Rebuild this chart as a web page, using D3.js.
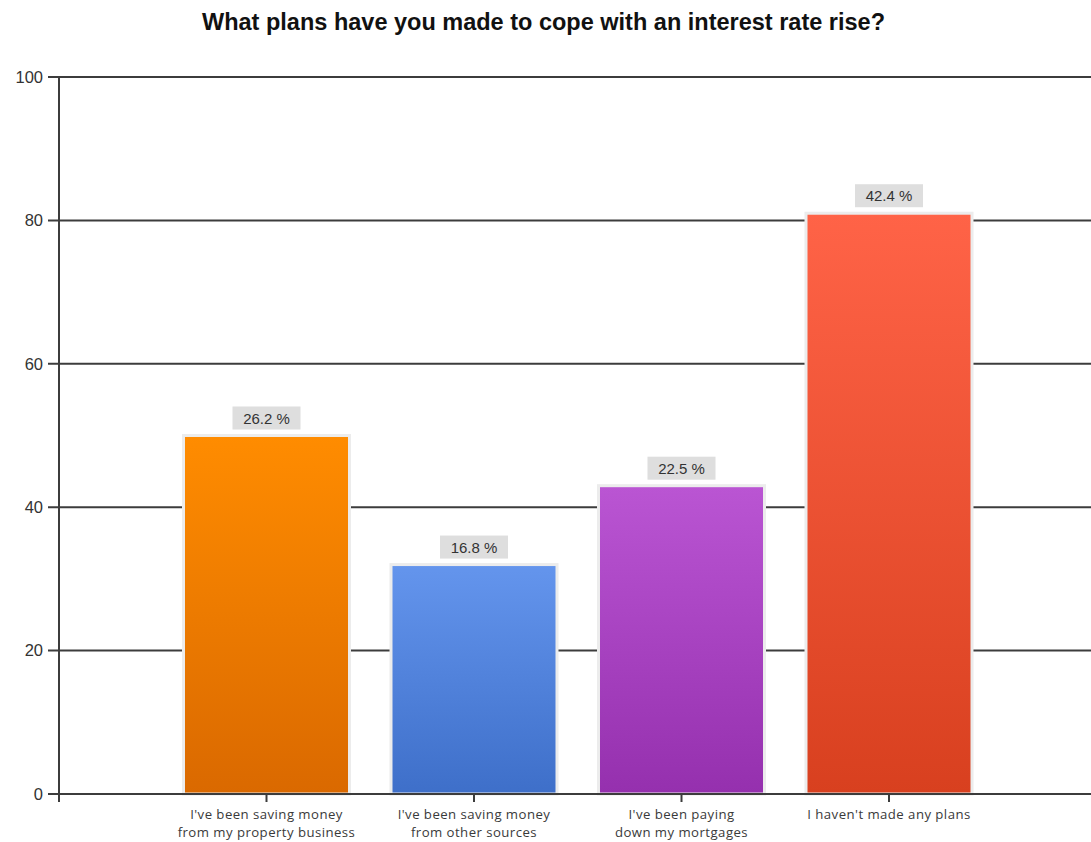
<!DOCTYPE html>
<html>
<head>
<meta charset="utf-8">
<script src="https://cdn.jsdelivr.net/npm/d3@7/dist/d3.min.js"></script>
<style>
  html, body { margin: 0; padding: 0; background: #fff; }
  svg { display: block; font-family: "Liberation Sans", Arial, sans-serif; }
</style>
</head>
<body>
<svg id="chart" width="1091" height="842"></svg>
<script>
// Survey answers (multiple choice allowed)
const categories = [
  ["I've been saving money", "from my property business"],
  ["I've been saving money", "from other sources"],
  ["I've been paying", "down my mortgages"],
  ["I haven't made any plans"]
];
const responses = [50, 32, 43, 81];   // number of respondents per answer
const respondents = 191;              // total respondents
const yTicks = [0, 20, 40, 60, 80, 100];
const barTop = ["#ff8c00", "#6495ed", "#ba55d3", "#ff6347"];
const barBottom = ["#da6900", "#3e6fc9", "#9530ae", "#d8401f"];

const title = "What plans have you made to cope with an interest rate rise?";

const svg = d3.select("#chart");
const W = 1091;
const axisX = 59, zeroY = 794, topY = 77;

const keys = categories.map((c, i) => "c" + i);

const y = d3.scaleLinear().domain([0, 100]).range([zeroY, topY]);
const step = 207.5;
const x = d3.scaleBand()
  .domain(keys)
  .range([axisX + step * 0.5, axisX + step * 4.5])
  .paddingInner(0.2)
  .paddingOuter(0.1);

// gradients
const defs = svg.append("defs");
keys.forEach((k, i) => {
  const g = defs.append("linearGradient")
    .attr("id", "grad-" + k)
    .attr("x1", 0).attr("y1", 0).attr("x2", 0).attr("y2", 1);
  g.append("stop").attr("offset", "0%").attr("stop-color", barTop[i]);
  g.append("stop").attr("offset", "100%").attr("stop-color", barBottom[i]);
});

// title
svg.append("text")
  .attr("x", 543.5).attr("y", 30)
  .attr("text-anchor", "middle")
  .attr("font-size", 23.5)
  .attr("font-weight", "bold")
  .attr("fill", "#111")
  .text(title);

// horizontal grid lines
svg.append("g")
  .selectAll("line")
  .data(yTicks)
  .join("line")
  .attr("x1", axisX - 11).attr("x2", W)
  .attr("y1", d => y(d)).attr("y2", d => y(d))
  .attr("stroke", "#3c3c3c")
  .attr("stroke-width", 2);

// y tick labels
svg.append("g")
  .selectAll("text")
  .data(yTicks)
  .join("text")
  .attr("x", axisX - 16)
  .attr("y", d => y(d))
  .attr("dy", "0.35em")
  .attr("text-anchor", "end")
  .attr("font-size", 16.5)
  .attr("fill", "#333")
  .text(d => d);

// y axis line
svg.append("line")
  .attr("x1", axisX).attr("x2", axisX)
  .attr("y1", y(100)).attr("y2", zeroY + 8)
  .attr("stroke", "#3c3c3c").attr("stroke-width", 2);

// bars
svg.append("g")
  .selectAll("rect")
  .data(responses)
  .join("rect")
  .attr("x", (d, i) => x(keys[i]))
  .attr("y", d => y(d))
  .attr("width", x.bandwidth())
  .attr("height", d => zeroY - y(d))
  .attr("fill", (d, i) => `url(#grad-${keys[i]})`)
  .attr("stroke", "#ececec")
  .attr("stroke-width", 3);

// redraw the baseline over the bar borders
svg.append("line")
  .attr("x1", axisX - 11).attr("x2", W)
  .attr("y1", zeroY).attr("y2", zeroY)
  .attr("stroke", "#3c3c3c").attr("stroke-width", 2);

// category tick marks
svg.append("g")
  .selectAll("line")
  .data(keys)
  .join("line")
  .attr("x1", k => x(k) + x.bandwidth() / 2)
  .attr("x2", k => x(k) + x.bandwidth() / 2)
  .attr("y1", zeroY).attr("y2", zeroY + 8)
  .attr("stroke", "#3c3c3c").attr("stroke-width", 2);

// category labels, one text element per line
const catG = svg.append("g");
categories.forEach((lines, i) => {
  lines.forEach((ln, j) => {
    catG.append("text")
      .attr("x", x(keys[i]) + x.bandwidth() / 2)
      .attr("y", 818.5 + j * 18)
      .attr("text-anchor", "middle")
      .attr("font-family", "'Open Sans', sans-serif")
      .attr("font-size", 13.2)
      .attr("letter-spacing", 0.45)
      .attr("fill", "#3a3a3a")
      .text(ln);
  });
});

// value labels (share of respondents)
const labG = svg.append("g");
responses.forEach((v, i) => {
  const cx = x(keys[i]) + x.bandwidth() / 2;
  const label = (v / respondents * 100).toFixed(1) + " %";
  const by = y(v) - 6;
  labG.append("rect")
    .attr("x", cx - 34).attr("y", by - 23)
    .attr("width", 68).attr("height", 23)
    .attr("fill", "#dedede");
  labG.append("text")
    .attr("x", cx).attr("y", by - 6)
    .attr("text-anchor", "middle")
    .attr("font-size", 15)
    .attr("fill", "#333")
    .text(label);
});
</script>
</body>
</html>
